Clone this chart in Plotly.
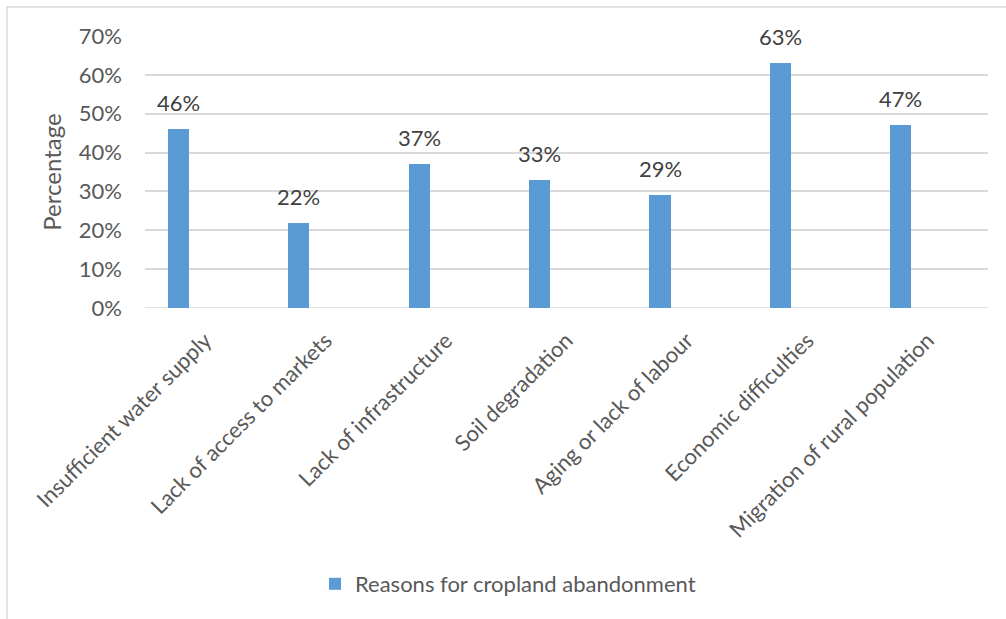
import plotly.graph_objects as go

categories = [
    "Insufficient water supply",
    "Lack of access to markets",
    "Lack of infrastructure",
    "Soil degradation",
    "Aging or lack of labour",
    "Economic difficulties",
    "Migration of rural population",
]
values = [46, 22, 37, 33, 29, 63, 47]
series_name = "Reasons for cropland abandonment"
y_ticks = [0, 10, 20, 30, 40, 50, 60, 70]
y_tick_labels = [f"{v}%" for v in y_ticks]

BLUE = "#5B9BD5"
GRID = "#D9D9D9"
TEXT = "#595959"
FONT = "Lato"
FS = 22

W, H = 1006, 619
L, R, T, B = 145, 18, 36, 311
pw, ph = W - L - R, H - T - B

idx = list(range(len(categories)))
bar_w = 0.175
bar_x = [i - 0.311 + bar_w / 2 for i in idx]


def px_x(p):
    return (p - L) / pw


def px_y(p):
    return (H - B - p) / ph


fig = go.Figure()
fig.add_trace(go.Bar(
    x=bar_x, y=values, width=bar_w, name=series_name,
    marker=dict(color=BLUE, line=dict(width=0)),
    showlegend=True,
))

for xv, v in zip(bar_x, values):
    fig.add_annotation(
        x=xv, y=v, text=f"{v}%", showarrow=False,
        yanchor="bottom", yshift=11,
        font=dict(family=FONT, size=FS, color="#404040"),
    )

# Chart-area border (left and top edges visible)
fig.add_shape(type="rect", xref="paper", yref="paper",
              x0=px_x(7), x1=px_x(1030), y0=px_y(640), y1=px_y(7),
              line=dict(color=GRID, width=1.5), layer="below")

# Horizontal category axis line
fig.add_shape(type="line", xref="paper", yref="y", x0=0, x1=1, y0=0, y1=0,
              line=dict(color=GRID, width=1.5), layer="below")

fig.update_layout(
    width=W, height=H,
    margin=dict(l=L, r=R, t=T, b=B),
    paper_bgcolor="white", plot_bgcolor="white",
    font=dict(family=FONT, size=FS, color=TEXT),
    bargap=0,
    legend=dict(orientation="h", x=px_x(315), xanchor="left",
                y=px_y(584), yanchor="middle",
                font=dict(family=FONT, size=FS, color=TEXT),
                itemwidth=30),
    xaxis=dict(
        range=[-0.5, 6.5], tickmode="array", tickvals=idx, ticktext=categories,
        tickangle=-45, showgrid=False, zeroline=False, showline=False,
        ticks="outside", ticklen=10, tickcolor="rgba(0,0,0,0)",
        tickfont=dict(family=FONT, size=FS, color=TEXT),
    ),
    yaxis=dict(
        range=[0, 70], tickmode="array", tickvals=y_ticks, ticktext=y_tick_labels,
        showgrid=True, gridcolor=GRID, gridwidth=1.5, zeroline=False,
        showline=False, ticks="", ticklabelstandoff=22,
        tickfont=dict(family=FONT, size=FS, color=TEXT),
        title=dict(text="Percentage", standoff=10,
                   font=dict(family=FONT, size=24, color=TEXT)),
    ),
)

fig.write_html("out.html")
